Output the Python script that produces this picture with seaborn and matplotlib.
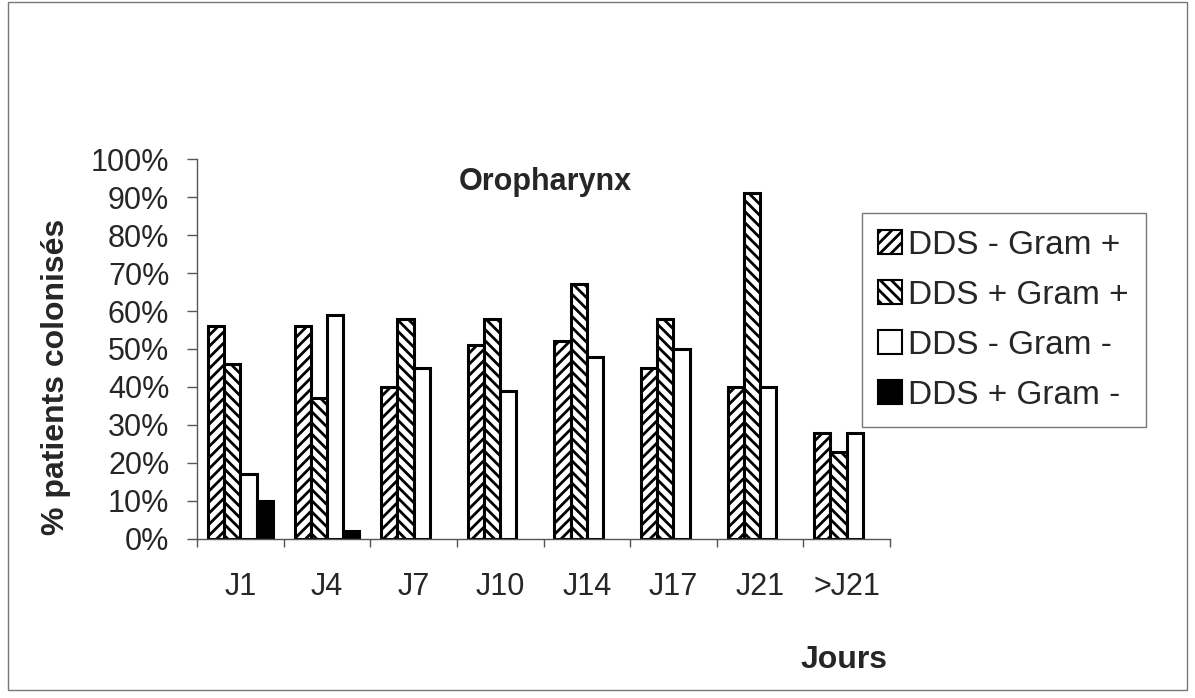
import numpy as np
import pandas as pd
import seaborn as sns
import matplotlib.pyplot as plt
from matplotlib.patches import Patch, Rectangle

jours = ['J1', 'J4', 'J7', 'J10', 'J14', 'J17', 'J21', '>J21']
series = ['DDS - Gram +', 'DDS + Gram +', 'DDS - Gram -', 'DDS + Gram -']
dds_moins_gram_plus = [56, 56, 40, 51, 52, 45, 40, 28]
dds_plus_gram_plus = [46, 37, 58, 58, 67, 58, 91, 23]
dds_moins_gram_moins = [17, 59, 45, 39, 48, 50, 40, 28]
dds_plus_gram_moins = [10, 2, np.nan, np.nan, np.nan, np.nan, np.nan, np.nan]

valeurs = [dds_moins_gram_plus, dds_plus_gram_plus, dds_moins_gram_moins, dds_plus_gram_moins]
rows = []
for s, vals in zip(series, valeurs):
    for j, v in zip(jours, vals):
        rows.append({'Jours': j, 'Serie': s, 'Pct': v})
df = pd.DataFrame(rows).dropna()

sns.set_style('white')
plt.rcParams['font.family'] = ['Liberation Sans', 'DejaVu Sans']
plt.rcParams['hatch.linewidth'] = 2.0

fig = plt.figure(figsize=(11.95, 6.98), dpi=100)
ax = fig.add_axes([0.1649, 0.2278, 0.5799, 0.5444])

couleurs = ['white', 'white', 'white', 'black']
hatches = ['///', '\\\\\\', '', '']
sns.barplot(data=df, x='Jours', y='Pct', hue='Serie', order=jours, hue_order=series,
            palette=couleurs, width=0.75, errorbar=None, edgecolor='black',
            linewidth=2.2, ax=ax, legend=False)
for cont, h in zip(ax.containers, hatches):
    for bar in cont:
        bar.set_hatch(h)

# axes
ax.set_ylim(0, 100)
ax.set_xlim(-0.5, len(jours) - 0.5)
ax.set_yticks(range(0, 101, 10))
ax.set_yticklabels([f'{v}%' for v in range(0, 101, 10)], fontsize=22)
ax.set_xticks(np.arange(-0.5, len(jours), 1))
ax.set_xticklabels([])
ax.set_xticks(range(len(jours)), minor=True)
ax.set_xticklabels(jours, minor=True, fontsize=22)
ax.tick_params(axis='x', which='major', bottom=True, length=6, width=1,
               direction='out', color='#555555')
ax.tick_params(axis='x', which='minor', bottom=True, length=0, pad=24)
ax.tick_params(axis='y', left=True, length=7, width=1, direction='out',
               color='#555555', pad=13)
for sp in ['top', 'right']:
    ax.spines[sp].set_visible(False)
for sp in ['left', 'bottom']:
    ax.spines[sp].set_color('#555555')
    ax.spines[sp].set_linewidth(1)
ax.set_xlabel('')
ax.set_ylabel('')

fig.text(0.047, 0.46, '% patients colonisés', fontsize=23, fontweight='bold',
         rotation=90, ha='center', va='center')
fig.text(0.456, 0.739, 'Oropharynx', fontsize=22, fontweight='bold', ha='center', va='center')
fig.text(0.706, 0.055, 'Jours', fontsize=23, fontweight='bold', ha='center', va='center')

handles = [Patch(facecolor=c, edgecolor='black', hatch=h, linewidth=1.5)
           for c, h in zip(couleurs, hatches)]
leg = fig.legend(handles, series, loc='upper left', bbox_to_anchor=(0.721, 0.695),
                 fontsize=24, frameon=True, fancybox=False, handlelength=0.7,
                 handleheight=0.7, handletextpad=0.2, labelspacing=0.57, borderpad=0.5,
                 borderaxespad=0)
leg.get_frame().set_edgecolor('#555555')
leg.get_frame().set_linewidth(1)

# cadre autour de la figure
fig.patches.append(Rectangle((0.007, 0.012), 0.986, 0.985, transform=fig.transFigure,
                             fill=False, edgecolor='#777777', linewidth=1))

fig.savefig('out.png', dpi=100)
